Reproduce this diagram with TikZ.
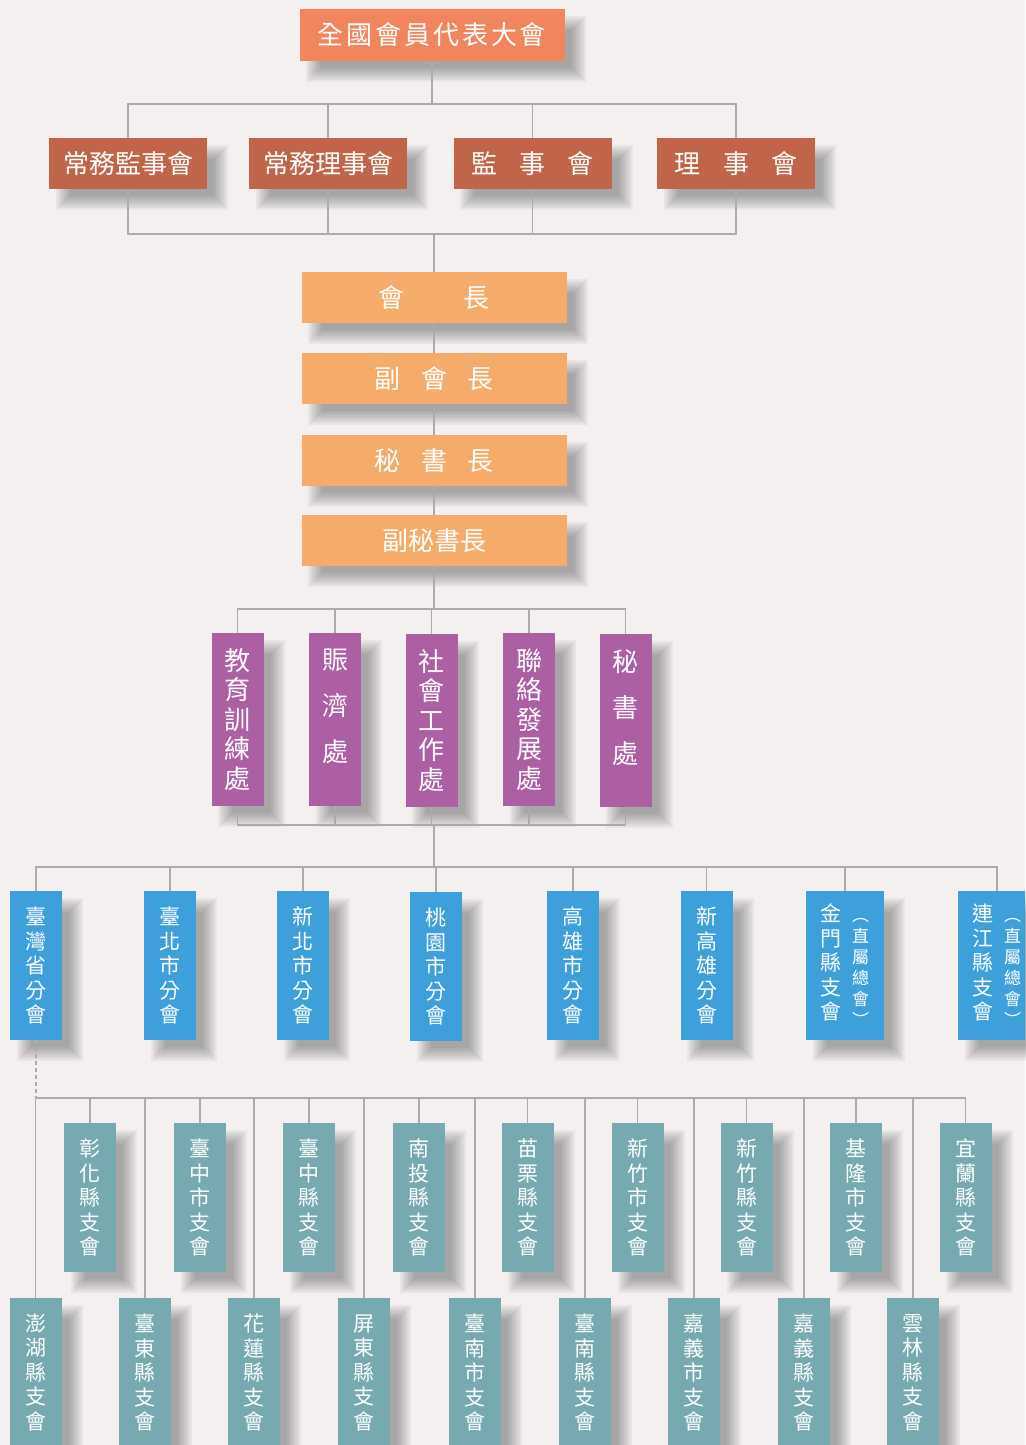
\documentclass[tikz,border=0pt]{standalone}
\usepackage{fontspec}
\newfontfamily\cjk{Noto Sans CJK TC}
\newfontfamily\cjkwide[LetterSpace=11]{Noto Sans CJK TC}
\usetikzlibrary{calc}
\pgfdeclarelayer{paper}
\pgfdeclarelayer{shadow}
\pgfsetlayers{paper,shadow,main}
\definecolor{cbg}{HTML}{F3F0EF}
\definecolor{ctop}{HTML}{F0855E}
\definecolor{cboard}{HTML}{C0654A}
\definecolor{cofficer}{HTML}{F5AC6A}
\definecolor{cdept}{HTML}{AD5FA3}
\definecolor{cbranch}{HTML}{3EA0DB}
\definecolor{ccounty}{HTML}{76AAB0}
\definecolor{cline}{HTML}{ABABAB}
\newcommand\twocol[1]{\parbox[t]{21pt}{\centering #1}\hspace{10pt}\parbox[t]{18pt}{\centering\fontsize{17}{21}\selectfont ︵\\直\\屬\\總\\會\\︶}}
\tikzset{
  box/.style={fill=#1, text=white, inner sep=0pt, align=center},
  board/.style={box=cboard, minimum width=158pt, minimum height=51pt, font=\cjk\fontsize{26}{30}\selectfont},
  officer/.style={box=cofficer, minimum width=265pt, minimum height=51pt, font=\cjk\fontsize{26}{30}\selectfont},
  dept/.style={box=cdept, minimum width=52pt, minimum height=173pt, font=\cjk\fontsize{26}{29.5}\selectfont},
  branch/.style={box=cbranch, minimum width=52pt, minimum height=149pt, font=\cjk\fontsize{21}{24.5}\selectfont},
  county/.style={box=ccounty, minimum width=52pt, minimum height=149pt, font=\cjk\fontsize{21}{24.5}\selectfont},
  link/.style={draw=cline, line width=1.6pt},
  haze/.style={fill=black, opacity=0.045},
}

\begin{document}
\begin{tikzpicture}[x=1pt, y=-1pt]
  \path[use as bounding box, clip] (0,0) rectangle (1025,1445);
  \begin{pgfonlayer}{paper}
    \fill[cbg] (0,0) rectangle (1025,1445);
  \end{pgfonlayer}
  % assembly and boards
  \node[box=ctop, minimum width=265pt, minimum height=52pt, font=\cjkwide\fontsize{26}{30}\selectfont] (nat) at (432,35) {全國會員代表大會};
  \node[board] (cs) at (128,163.5) {常務監事會};
  \node[board] (cd) at (328,163.5) {常務理事會};
  \node[board] (sv) at (532.5,163.5) {監\hspace{0.85em}事\hspace{0.85em}會};
  \node[board] (dr) at (736,163.5) {理\hspace{0.85em}事\hspace{0.85em}會};
  % officers
  \node[officer] (pres) at (434,297.5) {會\hspace{2.3em}長};
  \node[officer] (vp) at (434,378.5) {副\hspace{0.77em}會\hspace{0.77em}長};
  \node[officer] (sg) at (434,460.5) {秘\hspace{0.77em}書\hspace{0.77em}長};
  \node[officer] (dsg) at (434,540.5) {副秘書長};
  % departments
  \node[dept] (edu) at (237.5,719.5) {教\\育\\訓\\練\\處};
  \node[dept] (relief) at (335,719.5) {賑\\[16.5pt]濟\\[16.5pt]處\\[-1pt]\mbox{}};
  \node[dept] (social) at (431.5,720.5) {社\\會\\工\\作\\處};
  \node[dept] (liaison) at (529,719.5) {聯\\絡\\發\\展\\處};
  \node[dept] (sec) at (625.5,720.5) {秘\\[16.5pt]書\\[16.5pt]處\\[-1pt]\mbox{}};
  % branches
  \node[branch] (tw) at (36,965.5) {臺\\灣\\省\\分\\會};
  \node[branch] (tp) at (170,965.5) {臺\\北\\市\\分\\會};
  \node[branch] (ntp) at (303,965.5) {新\\北\\市\\分\\會};
  \node[branch] (ty) at (436,966.5) {桃\\園\\市\\分\\會};
  \node[branch] (kh) at (573,965.5) {高\\雄\\市\\分\\會};
  \node[branch] (nkh) at (706.5,965.5) {新\\高\\雄\\分\\會};
  \node[branch, minimum width=78pt] (km) at (845,965.5) {\twocol{金\\門\\縣\\支\\會}};
  \node[branch, minimum width=78pt] (lj) at (997,965.5) {\twocol{連\\江\\縣\\支\\會}};
  % county sub-branches, upper row
  \node[county] (chh) at (90,1197.5) {彰\\化\\縣\\支\\會};
  \node[county] (tcc) at (200,1197.5) {臺\\中\\市\\支\\會};
  \node[county] (tcx) at (309,1197.5) {臺\\中\\縣\\支\\會};
  \node[county] (nt) at (419,1197.5) {南\\投\\縣\\支\\會};
  \node[county] (ml) at (527.5,1197.5) {苗\\栗\\縣\\支\\會};
  \node[county] (hcc) at (637.5,1197.5) {新\\竹\\市\\支\\會};
  \node[county] (hcx) at (746.5,1197.5) {新\\竹\\縣\\支\\會};
  \node[county] (kl) at (856,1197.5) {基\\隆\\市\\支\\會};
  \node[county] (yl) at (965.5,1197.5) {宜\\蘭\\縣\\支\\會};
  % county sub-branches, lower row
  \node[county] (ph) at (35.5,1372.5) {澎\\湖\\縣\\支\\會};
  \node[county] (tt) at (145,1372.5) {臺\\東\\縣\\支\\會};
  \node[county] (hl) at (254,1372.5) {花\\蓮\\縣\\支\\會};
  \node[county] (pt) at (364,1372.5) {屏\\東\\縣\\支\\會};
  \node[county] (tnc) at (475,1372.5) {臺\\南\\市\\支\\會};
  \node[county] (tnx) at (585,1372.5) {臺\\南\\縣\\支\\會};
  \node[county] (cyc) at (694,1372.5) {嘉\\義\\市\\支\\會};
  \node[county] (cyx) at (804,1372.5) {嘉\\義\\縣\\支\\會};
  \node[county] (yn) at (913,1372.5) {雲\\林\\縣\\支\\會};
  % soft shadows behind every box
  \begin{pgfonlayer}{shadow}
    \foreach \n in {nat,cs,cd,sv,dr,pres,vp,sg,dsg,edu,relief,social,liaison,sec,tw,tp,ntp,ty,kh,nkh,km,lj,chh,tcc,tcx,nt,ml,hcc,hcx,kl,yl,ph,tt,hl,pt,tnc,tnx,cyc,cyx,yn}
      \foreach \r in {-7,-5,...,7}
        \fill[haze] ($(\n.north west)+(14+\r,14+\r)$) rectangle ($(\n.south east)+(14-\r,14-\r)$);
  \end{pgfonlayer}
  % connectors
  \coordinate (b1) at (432,104);
  \coordinate (b2) at (434,234);
  \coordinate (b3) at (434,609);
  \coordinate (b4) at (434,825);
  \coordinate (b5) at (434,867);
  \coordinate (b6) at (36,1098);
  \draw[link] (nat) -- (b1);
  \draw[link] (cs.north) |- (b1) -| (dr.north);
  \draw[link] (cs.south) |- (b2) -| (dr.south);
  \foreach \n in {cd,sv} {\draw[link] (\n.north) -- (\n.north |- b1); \draw[link] (\n.south) -- (\n.south |- b2);}
  \draw[link] (b2) -- (pres); \draw[link] (pres) -- (vp); \draw[link] (vp) -- (sg); \draw[link] (sg) -- (dsg);
  \draw[link] (dsg) -- (b3);
  \draw[link] (edu.north) |- (b3) -| (sec.north);
  \draw[link] (edu.south) |- (b4) -| (sec.south);
  \foreach \n in {relief,social,liaison} {\draw[link] (\n.north) -- (\n.north |- b3); \draw[link] (\n.south) -- (\n.south |- b4);}
  \draw[link] (b4) -- (b5);
  \draw[link] (tw.north) |- (b5) -| (lj.north);
  \foreach \n in {tp,ntp,ty,kh,nkh,km} {\draw[link] (\n.north) -- (\n.north |- b5);}
  \draw[link, dash pattern=on 4pt off 3pt] (tw) -- (b6);
  \draw[link] (b6) -| (yl.north);
  \foreach \n in {chh,tcc,tcx,nt,ml,hcc,hcx,kl} {\draw[link] (\n.north) -- (\n.north |- b6);}
  \foreach \n in {ph,tt,hl,pt,tnc,tnx,cyc,cyx,yn} {\draw[link] (\n.north) -- (\n.north |- b6);}
\end{tikzpicture}
\end{document}
